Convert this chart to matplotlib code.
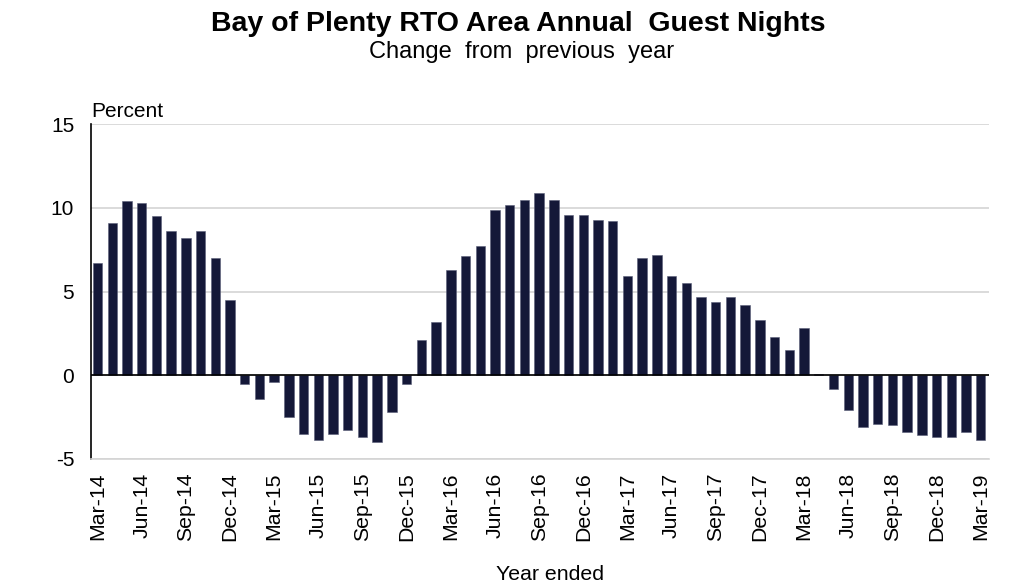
"""Bay of Plenty RTO annual guest nights, change from previous year."""

import matplotlib

matplotlib.use("Agg")
import matplotlib.pyplot as plt
import numpy as np

MONTHS = [
    "Mar", "Apr", "May", "Jun", "Jul", "Aug",
    "Sep", "Oct", "Nov", "Dec", "Jan", "Feb",
]
# year ended Mar-14 .. Mar-19, monthly
PERIODS = [
    f"{MONTHS[i % 12]}-{14 + (i + 2) // 12}" for i in range(61)
]
CHANGE = [
    6.7, 9.1, 10.4, 10.3, 9.5, 8.6, 8.2, 8.6, 7.0, 4.5,
    -0.5, -1.4, -0.4, -2.5, -3.5, -3.9, -3.5, -3.3, -3.7, -4.0,
    -2.2, -0.5, 2.1, 3.2, 6.3, 7.1, 7.7, 9.9, 10.2, 10.5,
    10.9, 10.5, 9.6, 9.6, 9.3, 9.2, 5.9, 7.0, 7.2, 5.9,
    5.5, 4.7, 4.4, 4.7, 4.2, 3.3, 2.3, 1.5, 2.8, 0.05,
    -0.8, -2.1, -3.1, -2.9, -3.0, -3.4, -3.6, -3.7, -3.7, -3.4,
    -3.9,
]

BAR_COLOR = "#141838"

plt.rcParams["font.family"] = ["Liberation Sans", "DejaVu Sans"]
plt.rcParams["axes.unicode_minus"] = False

figure = plt.figure(figsize=(10.1, 5.86), dpi=100)
axis = figure.add_axes([0.090, 0.217, 0.889, 0.571])

x = np.arange(len(CHANGE))
axis.bar(x, CHANGE, width=0.64, color=BAR_COLOR, edgecolor="#5a5e78",
         linewidth=0.4, zorder=3)

axis.set_xlim(-0.45, len(CHANGE) - 0.45)
axis.set_ylim(-5, 15)
axis.set_yticks([-5, 0, 5, 10, 15])
axis.yaxis.grid(True, color="#d4d4d4", linewidth=1.2, zorder=0)
axis.axhline(0, color="black", linewidth=1.2, zorder=4)

axis.set_xticks(x[::3])
axis.set_xticklabels(PERIODS[::3], rotation=90, fontsize=15.3)
axis.tick_params(axis="y", labelsize=15, length=0, pad=12)
axis.tick_params(axis="x", length=0, pad=10)

for side in ("top", "right"):
    axis.spines[side].set_visible(False)
axis.spines["bottom"].set_color("#d4d4d4")
axis.spines["bottom"].set_linewidth(1.2)
axis.spines["left"].set_color("black")
axis.spines["left"].set_linewidth(1.2)

axis.text(0.0, 1.01, "Percent", transform=axis.transAxes, fontsize=15,
          ha="left", va="bottom")
figure.text(0.545, 0.019, "Year ended", ha="center", va="center",
            fontsize=15.3)

figure.text(0.513, 0.959, "Bay of Plenty RTO Area Annual  Guest Nights",
            ha="center", va="center", fontsize=20.5, fontweight="bold")
figure.text(0.516, 0.911, "Change  from  previous  year", ha="center",
            va="center", fontsize=17)

figure.savefig("out.png", dpi=100)
plt.close(figure)
